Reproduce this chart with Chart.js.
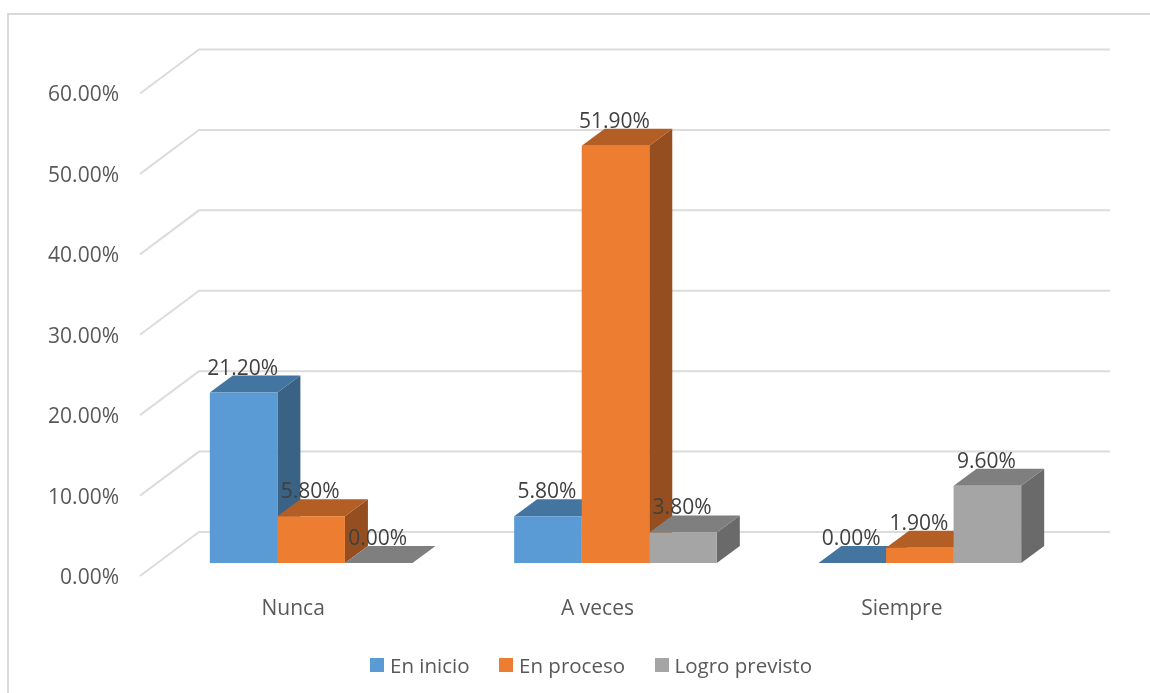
<!DOCTYPE html>
<html>
<head>
<meta charset="utf-8">
<script src="https://cdn.jsdelivr.net/npm/chart.js@4/dist/chart.umd.min.js"></script>
<style>
  html, body { margin: 0; padding: 0; background: #fff; overflow: hidden; }
  #wrap { position: relative; width: 1150px; height: 693px; overflow: hidden; }
  #frame { position: absolute; left: 7px; top: 13px; width: 1160px; height: 700px; border: 2px solid #d9d9d9; box-sizing: border-box; }
  canvas { position: absolute; left: 0; top: 0; }
  #legend { position: absolute; left: 370px; top: 651px; display: flex; font: 20.5px "Open Sans", sans-serif; color: #595959; line-height: 28px; }
  #legend span.item { display: flex; align-items: center; margin-right: 29.5px; }
  #legend span.box { width: 14px; height: 14px; margin-right: 6px; }
</style>
</head>
<body>
<div id="wrap">
  <div id="frame"></div>
  <canvas id="myChart" width="1150" height="693"></canvas>
  <div id="legend"></div>
</div>
<script>
var categories = ["Nunca", "A veces", "Siempre"];
var enInicio = [21.2, 5.8, 0];
var enProceso = [5.8, 51.9, 1.9];
var logroPrevisto = [0, 3.8, 9.6];

var FONT = '"Open Sans", sans-serif';

// [front, top, side]
var blue = ["#5b9bd5", "#4474a0", "#3a6285"];
var orange = ["#ed7d31", "#b25e25", "#944e1f"];
var gray = ["#a5a5a5", "#7f7f7f", "#6a6a6a"];

// depth of the bars and of the walls, in px
var BAR_DX = 23, BAR_DY = 17;
var WALL_BACK_X = 40, WALL_BACK_Y = 31, WALL_LEFT_X = 59, WALL_LEFT_Y = 44;

function poly(ctx, pts, color) {
  ctx.fillStyle = color;
  ctx.beginPath();
  ctx.moveTo(pts[0][0], pts[0][1]);
  for (var i = 1; i < pts.length; i++) ctx.lineTo(pts[i][0], pts[i][1]);
  ctx.closePath();
  ctx.fill();
}

var walls = {
  id: "walls",
  beforeDatasetsDraw: function (chart) {
    var ctx = chart.ctx;
    var y = chart.scales.y;
    var area = chart.chartArea;
    ctx.save();
    ctx.strokeStyle = "#dcdcdc";
    ctx.lineWidth = 2;
    y.ticks.forEach(function (t) {
      var py = y.getPixelForValue(t.value) - WALL_BACK_Y;
      ctx.beginPath();
      ctx.moveTo(area.left + WALL_BACK_X - WALL_LEFT_X, py + WALL_LEFT_Y);
      ctx.lineTo(area.left + WALL_BACK_X, py);
      ctx.lineTo(area.right + WALL_BACK_X - 2, py);
      ctx.stroke();
    });
    ctx.restore();

    // sides and tops go under the fronts, so the next bar covers them
    chart.data.datasets.forEach(function (ds, i) {
      chart.getDatasetMeta(i).data.forEach(function (bar) {
        var l = bar.x - bar.width / 2, r = bar.x + bar.width / 2;
        poly(ctx, [[r, bar.y], [r + BAR_DX, bar.y - BAR_DY], [r + BAR_DX, bar.base - BAR_DY], [r, bar.base]], ds.sideColor);
        poly(ctx, [[l, bar.y], [l + BAR_DX, bar.y - BAR_DY], [r + BAR_DX, bar.y - BAR_DY], [r, bar.y]], ds.topColor);
      });
    });
  },
  afterDatasetsDraw: function (chart) {
    var ctx = chart.ctx;
    ctx.save();
    ctx.font = "21px " + FONT;
    ctx.fillStyle = "#404040";
    ctx.textAlign = "center";
    ctx.textBaseline = "middle";
    chart.data.datasets.forEach(function (ds, i) {
      chart.getDatasetMeta(i).data.forEach(function (bar, j) {
        ctx.fillText(ds.data[j].toFixed(2) + "%", bar.x - 1, bar.y - 24);
      });
    });
    ctx.restore();
  },
};

var chart = new Chart(document.getElementById("myChart").getContext("2d"), {
  type: "bar",
  data: {
    labels: categories,
    datasets: [
      { label: "En inicio", data: enInicio, backgroundColor: blue[0], topColor: blue[1], sideColor: blue[2] },
      { label: "En proceso", data: enProceso, backgroundColor: orange[0], topColor: orange[1], sideColor: orange[2] },
      { label: "Logro previsto", data: logroPrevisto, backgroundColor: gray[0], topColor: gray[1], sideColor: gray[2] },
    ],
  },
  options: {
    responsive: false,
    animation: false,
    layout: { padding: { top: 80.5, right: 78, bottom: 0, left: 0 } },
    categoryPercentage: 0.666,
    barPercentage: 1,
    plugins: { legend: { display: false }, tooltip: { enabled: false } },
    scales: {
      x: {
        grid: { display: false },
        border: { display: false },
        afterFit: function (s) { s.height = 130; },
        ticks: { color: "#595959", font: { size: 21, family: FONT }, labelOffset: -18, padding: 25, maxRotation: 0 },
      },
      y: {
        min: 0,
        max: 60,
        grid: { display: false },
        border: { display: false },
        afterFit: function (s) { s.width = 159; },
        ticks: {
          stepSize: 10,
          color: "#595959",
          font: { size: 21, family: FONT },
          labelOffset: 15,
          padding: 32,
          callback: function (v) { return v.toFixed(2) + "%"; },
        },
      },
    },
  },
  plugins: [walls],
});

var legend = document.getElementById("legend");
chart.data.datasets.forEach(function (ds) {
  var item = document.createElement("span");
  item.className = "item";
  var box = document.createElement("span");
  box.className = "box";
  box.style.background = ds.backgroundColor;
  item.appendChild(box);
  item.appendChild(document.createTextNode(ds.label));
  legend.appendChild(item);
});
</script>
</body>
</html>
